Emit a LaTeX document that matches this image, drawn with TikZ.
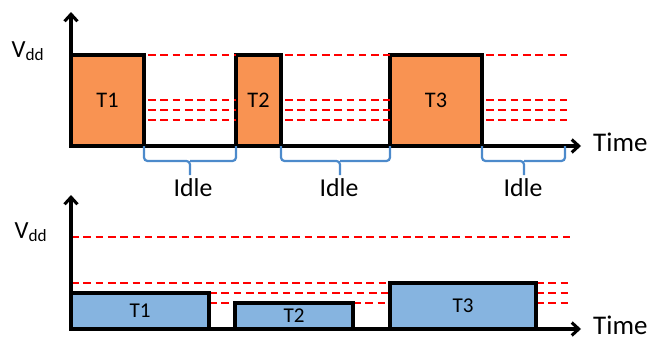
\documentclass[tikz,border=0pt]{standalone}
\usepackage{fontspec}
\setmainfont{Carlito}
\usepackage{tikz}
\usetikzlibrary{arrows.meta}
\definecolor{taskorange}{RGB}{249,147,82}
\definecolor{taskblue}{RGB}{134,180,224}
\definecolor{braceblue}{RGB}{76,138,203}
\definecolor{levelred}{RGB}{255,0,0}

\begin{document}
\begin{tikzpicture}[x=0.03cm, y=-0.03cm,
  axis/.style={line width=2.6pt, -{Straight Barb[length=6pt, width=11pt]}},
  task/.style={draw, line width=2.6pt, outer sep=0pt, inner sep=0pt, anchor=south west},
  level/.style={draw=levelred, line width=1.7pt, dash pattern=on 6.5pt off 4pt},
  idlebrace/.style={draw=braceblue, line width=1.9pt, rounded corners=3pt},
  lbl/.style={inner sep=0pt, font=\fontsize{22}{24}\selectfont}]
\useasboundingbox (0,0) rectangle (648,336);

% upper plot: full supply voltage
\node[task, fill=taskorange, minimum width=2.19cm, minimum height=2.73cm,
  font=\fontsize{19}{21}\selectfont] (t1) at (71,146) {T1};
\node[task, fill=taskorange, minimum width=1.35cm, minimum height=2.73cm,
  font=\fontsize{19}{21}\selectfont] (t2) at (236,146) {T2};
\node[task, fill=taskorange, minimum width=2.76cm, minimum height=2.73cm,
  font=\fontsize{19}{21}\selectfont] (t3) at (390,146) {T3};
\foreach \y in {55,100,110,120} {
  \draw[level] (148,\y) -- (236,\y);
  \draw[level] (285,\y) -- (390,\y);
  \draw[level] (486,\y) -- (570,\y);
}
\coordinate (o1) at (71,146);
\draw[axis] (o1) -- (71,12);
\draw[axis] (o1) -- (581,146);
\node[lbl, font=\fontsize{21}{23}\selectfont] (vdd1) at (28,51) {V\textsubscript{dd}};
\node[lbl, anchor=west, font=\fontsize{23}{25}\selectfont] (time1) at (593,142) {Time};

% idle gaps
\draw[idlebrace] (t1.south east) |- (190,161) -- (190,175);
\draw[idlebrace] (t2.south west) |- (190,161);
\draw[idlebrace] (t2.south east) |- (340,161) -- (340,175);
\draw[idlebrace] (t3.south west) |- (340,161);
\draw[idlebrace] (t3.south east) |- (524,161) -- (524,175);
\draw[idlebrace] (565,146) |- (524,161);
\node[lbl] (idle1) at (193,188) {Idle};
\node[lbl] (idle2) at (339,188) {Idle};
\node[lbl] (idle3) at (523,188) {Idle};

% lower plot: scaled supply voltage
\draw[level] (71,237) -- (570,237);
\draw[level] (71,283) -- (390,283);
\draw[level] (209,293) -- (390,293);
\draw[level] (209,303) -- (235,303);
\draw[level] (353,303) -- (390,303);
\foreach \y in {283,293,303}
  \draw[level] (536,\y) -- (570,\y);
\node[task, fill=taskblue, minimum width=4.14cm, minimum height=1.08cm,
  font=\fontsize{18}{20}\selectfont] (b1) at (71,329) {T1};
\node[task, fill=taskblue, minimum width=3.54cm, minimum height=0.78cm,
  font=\fontsize{18}{20}\selectfont] (b2) at (235,329) {T2};
\node[task, fill=taskblue, minimum width=4.38cm, minimum height=1.38cm,
  font=\fontsize{18}{20}\selectfont] (b3) at (390,329) {T3};
\coordinate (o2) at (71,329);
\draw[axis] (o2) -- (71,195);
\draw[axis] (o2) -- (581,329);
\node[lbl, font=\fontsize{21}{23}\selectfont] (vdd2) at (31,232) {V\textsubscript{dd}};
\node[lbl, anchor=west, font=\fontsize{23}{25}\selectfont] (time2) at (593,325) {Time};
\end{tikzpicture}
\end{document}
